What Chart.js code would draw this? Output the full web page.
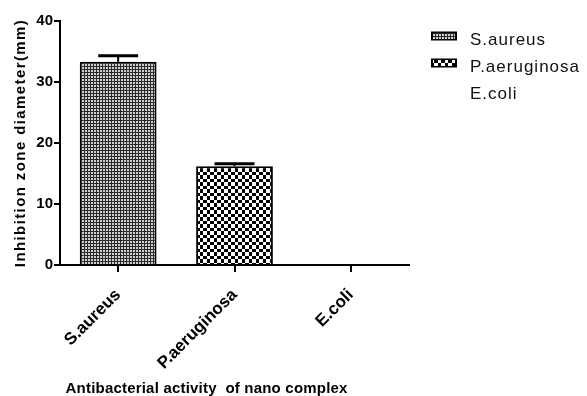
<!DOCTYPE html>
<html>
<head>
<meta charset="utf-8">
<script src="https://cdn.jsdelivr.net/npm/chart.js@4"></script>
<style>
  body { margin: 0; background: #fff; }
  #wrap { width: 587px; height: 396px; }
</style>
</head>
<body>
<div id="wrap"><canvas id="bar-chart"></canvas></div>
<script>
const categories = ['S.aureus', 'P.aeruginosa', 'E.coli'];
const means = [33.3, 16.2, 0];
const errors = [1.0, 0.4, 0];
const yTicks = [0, 10, 20, 30, 40];
const yTitle = 'Inhibition zone diameter(mm)';
const xTitle = 'Antibacterial activity  of nano complex';

// hatch fills like the prism style patterns
function finePattern() {
    const c = document.createElement('canvas');
    c.width = 3; c.height = 3;
    const g = c.getContext('2d');
    g.fillStyle = '#2a2a2a';
    g.fillRect(0, 0, 3, 3);
    g.fillStyle = '#d0d0d0';
    g.fillRect(1, 1, 2, 2);
    return g.createPattern(c, 'repeat');
}
function checkPattern() {
    const c = document.createElement('canvas');
    c.width = 14; c.height = 14;
    const g = c.getContext('2d');
    const cuts = [0, 4, 7, 11, 14];
    g.fillStyle = '#000';
    g.fillRect(0, 0, 14, 14);
    g.fillStyle = '#fff';
    for (let i = 0; i < 4; i++) {
        for (let j = 0; j < 4; j++) {
            if ((i + j) % 2 === 0) {
                g.fillRect(cuts[i], cuts[j], cuts[i + 1] - cuts[i], cuts[j + 1] - cuts[j]);
            }
        }
    }
    return g.createPattern(c, 'repeat');
}
const fills = [finePattern(), checkPattern(), 'rgba(0,0,0,0)'];

const extras = {
    id: 'extras',
    afterDatasetsDraw(chart) {
        const ctx = chart.ctx;
        const y = chart.scales.y;
        const bars = chart.getDatasetMeta(0).data;
        ctx.save();
        ctx.strokeStyle = '#000';
        bars.forEach((bar, i) => {
            if (!errors[i]) return;
            const top = y.getPixelForValue(means[i] + errors[i]);
            const half = bar.width * 0.26;
            ctx.lineWidth = 2;
            ctx.beginPath();
            ctx.moveTo(bar.x, bar.y);
            ctx.lineTo(bar.x, top);
            ctx.stroke();
            ctx.lineWidth = 3;
            ctx.beginPath();
            ctx.moveTo(bar.x - half, top);
            ctx.lineTo(bar.x + half, top);
            ctx.stroke();
        });
        ctx.restore();
    },
    afterDraw(chart) {
        const ctx = chart.ctx;
        const area = chart.chartArea;
        ctx.save();
        ctx.fillStyle = '#000';

        // y title
        ctx.font = 'bold 15px "Liberation Sans"';
        ctx.letterSpacing = '1.4px';
        ctx.textAlign = 'center';
        ctx.textBaseline = 'alphabetic';
        ctx.save();
        ctx.translate(25, (area.top + area.bottom) / 2);
        ctx.rotate(-Math.PI / 2);
        ctx.fillText(yTitle, 0, 0);
        ctx.restore();

        // x title
        ctx.font = 'bold 15px "Liberation Sans"';
        ctx.letterSpacing = '0.2px';
        ctx.fillText(xTitle, area.left + area.width * 0.42, chart.height - 3);

        // legend
        ctx.font = '17px "Liberation Sans"';
        ctx.letterSpacing = '1px';
        ctx.textAlign = 'left';
        categories.forEach((name, i) => {
            const base = 44.5 + i * 27;
            if (means[i] > 0) {
                ctx.fillStyle = '#000';
                ctx.fillRect(431, base - 13, 26, 9);
                ctx.fillStyle = fills[i];
                ctx.fillRect(433, base - 11.5, 22, 6);
            }
            ctx.fillStyle = '#111';
            ctx.fillText(name, 470, base);
        });
        ctx.restore();
    }
};

new Chart(document.getElementById('bar-chart'), {
    type: 'bar',
    data: {
        labels: categories,
        datasets: [{
            label: 'Inhibition zone',
            data: means,
            backgroundColor: fills,
            borderColor: '#000',
            borderWidth: 2,
            barPercentage: 0.66,
            categoryPercentage: 1
        }]
    },
    options: {
        responsive: true,
        maintainAspectRatio: false,
        animation: false,
        layout: { padding: { left: 30, right: 178, top: 21, bottom: 11 } },
        plugins: {
            legend: { display: false },
            tooltip: { enabled: false }
        },
        scales: {
            x: {
                afterFit(s) { s.height = 120; },
                border: { display: true, color: '#000', width: 2 },
                grid: { drawOnChartArea: false, offset: false, color: '#000', lineWidth: 2, tickLength: 7 },
                ticks: {
                    color: '#000',
                    font: { family: 'Liberation Sans', weight: 'bold', size: 17 },
                    minRotation: 45,
                    maxRotation: 45,
                    padding: 13
                }
            },
            y: {
                min: 0,
                max: 40,
                afterFit(s) { s.width = 30; },
                afterBuildTicks(s) { s.ticks = yTicks.map(v => ({ value: v })); },
                border: { display: true, color: '#000', width: 2 },
                grid: { drawOnChartArea: false, color: '#000', lineWidth: 2, tickLength: 6 },
                ticks: {
                    color: '#000',
                    font: { family: 'Liberation Sans', weight: 'bold', size: 15 },
                    padding: 1
                }
            }
        }
    },
    plugins: [extras]
});
</script>
</body>
</html>
